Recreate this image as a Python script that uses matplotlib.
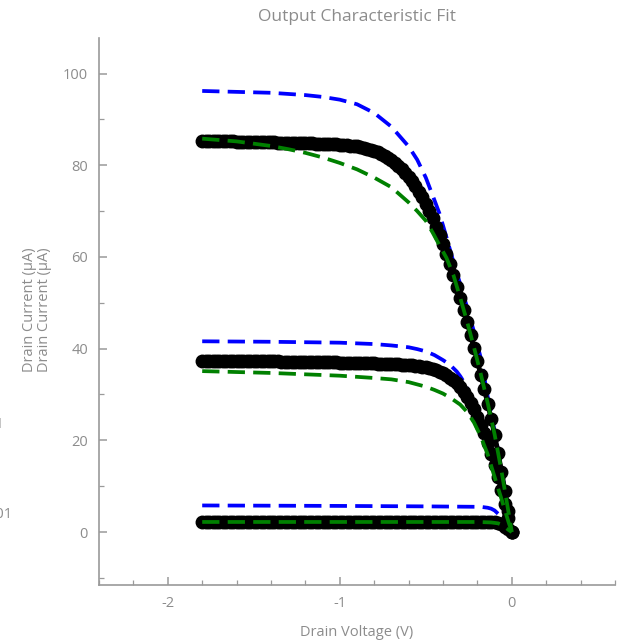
import numpy as np
import matplotlib
matplotlib.use("Agg")
import matplotlib.pyplot as plt
from matplotlib.ticker import MultipleLocator

plt.rcParams['font.family'] = ['Open Sans', 'DejaVu Sans']
plt.rcParams['axes.unicode_minus'] = False

# Drain-voltage sweep (V), 0.02 V step
vds = np.round(np.linspace(-1.8, 0.0, 91), 2)

# Measured drain current (uA) for three gate biases
i_meas_high = [
    85.3, 85.3, 85.3, 85.3, 85.2, 85.2, 85.2, 85.2, 85.2, 85.2,
    85.1, 85.1, 85.1, 85.1, 85.1, 85.1, 85.0, 85.0, 85.0, 85.0,
    85.0, 85.0, 84.9, 84.9, 84.9, 84.9, 84.9, 84.9, 84.8, 84.8,
    84.8, 84.8, 84.8, 84.7, 84.7, 84.7, 84.7, 84.6, 84.6, 84.6,
    84.5, 84.5, 84.4, 84.3, 84.2, 84.1, 84.0, 83.8, 83.6, 83.4,
    83.1, 82.8, 82.5, 82.1, 81.6, 81.1, 80.5, 79.9, 79.2, 78.4,
    77.5, 76.5, 75.4, 74.2, 73.0, 71.6, 70.1, 68.4, 66.6, 64.7,
    62.8, 60.6, 58.4, 56.0, 53.5, 51.0, 48.4, 45.8, 43.0, 40.2,
    37.2, 34.3, 31.2, 28.0, 24.6, 21.2, 17.3, 13.2, 8.9, 4.5,
    0.0,
]
i_meas_mid = [
    37.4, 37.4, 37.4, 37.4, 37.4, 37.3, 37.3, 37.3, 37.3, 37.3,
    37.3, 37.3, 37.3, 37.2, 37.2, 37.2, 37.2, 37.2, 37.2, 37.2,
    37.2, 37.2, 37.2, 37.1, 37.1, 37.1, 37.1, 37.1, 37.1, 37.1,
    37.1, 37.1, 37.0, 37.0, 37.0, 37.0, 37.0, 37.0, 37.0, 37.0,
    36.9, 36.9, 36.9, 36.9, 36.9, 36.9, 36.8, 36.8, 36.8, 36.8,
    36.8, 36.7, 36.7, 36.7, 36.7, 36.6, 36.6, 36.6, 36.5, 36.5,
    36.5, 36.4, 36.3, 36.2, 36.1, 36.0, 35.8, 35.6, 35.3, 35.0,
    34.6, 34.2, 33.7, 33.1, 32.4, 31.6, 30.6, 29.5, 28.2, 26.8,
    25.2, 23.4, 21.5, 19.4, 17.1, 14.6, 11.9, 9.1, 6.1, 3.1,
    0.0,
]
i_meas_low = [
    2.3, 2.3, 2.3, 2.3, 2.3, 2.3, 2.3, 2.3, 2.3, 2.3,
    2.3, 2.3, 2.3, 2.3, 2.3, 2.3, 2.3, 2.3, 2.3, 2.3,
    2.3, 2.3, 2.3, 2.3, 2.3, 2.3, 2.3, 2.3, 2.3, 2.3,
    2.3, 2.3, 2.3, 2.3, 2.3, 2.3, 2.3, 2.3, 2.3, 2.3,
    2.3, 2.3, 2.3, 2.3, 2.3, 2.3, 2.3, 2.3, 2.3, 2.3,
    2.3, 2.3, 2.3, 2.3, 2.3, 2.3, 2.3, 2.3, 2.3, 2.3,
    2.3, 2.3, 2.3, 2.3, 2.3, 2.3, 2.3, 2.3, 2.3, 2.3,
    2.3, 2.3, 2.3, 2.3, 2.3, 2.3, 2.3, 2.3, 2.3, 2.3,
    2.3, 2.3, 2.3, 2.3, 2.2, 2.2, 2.0, 1.7, 1.2, 0.6,
    0.0,
]

# Model A (blue) evaluated at selected drain voltages
va_high = [-1.8, -1.6, -1.4, -1.2, -1.1, -1.0, -0.9, -0.8, -0.7, -0.6, -0.55,
           -0.5, -0.45, -0.42, -0.38, -0.34, -0.30, -0.26, -0.22, -0.18,
           -0.14, -0.10, -0.06, -0.02, 0.0]
ia_high = [96.2, 96.0, 95.8, 95.3, 94.9, 94.3, 93.3, 91.4, 88.4, 84.1, 81.2,
           77.3, 72.4, 69.4, 64.3, 59.0, 54.1, 49.0, 43.7, 37.9,
           29.5, 22.0, 13.6, 4.6, 0.0]
va_mid = [-1.8, -1.4, -1.0, -0.8, -0.7, -0.6, -0.55, -0.5, -0.45, -0.40,
          -0.36, -0.32, -0.30, -0.28, -0.26, -0.24, -0.22, -0.20, -0.16,
          -0.12, -0.08, -0.04, 0.0]
ia_mid = [41.6, 41.5, 41.3, 41.0, 40.7, 40.3, 39.9, 39.4, 38.6, 37.5,
          36.5, 35.0, 34.0, 32.8, 31.4, 29.8, 28.0, 26.1, 22.0,
          17.6, 12.4, 6.3, 0.0]
va_low = [-1.8, -1.0, -0.5, -0.18, -0.14, -0.12, -0.10, -0.08, -0.06,
          -0.04, -0.02, 0.0]
ia_low = [5.8, 5.7, 5.6, 5.5, 5.3, 5.1, 4.7, 4.0, 3.1, 2.2, 1.2, 0.0]

# Model B (green) evaluated at selected drain voltages
vb_high = [-1.8, -1.6, -1.4, -1.3, -1.2, -1.1, -1.0, -0.9, -0.8, -0.7, -0.6,
           -0.55, -0.5, -0.46, -0.42, -0.38, -0.34, -0.30, -0.26, -0.22,
           -0.18, -0.14, -0.10, -0.06, -0.02, 0.0]
ib_high = [85.8, 85.2, 84.2, 83.5, 82.7, 81.7, 80.5, 79.1, 77.3, 75.2, 71.9,
           70.0, 67.9, 65.3, 62.5, 59.8, 56.1, 51.1, 45.9, 40.3,
           34.4, 28.1, 21.3, 13.3, 4.5, 0.0]
vb_mid = [-1.8, -1.6, -1.4, -1.2, -1.0, -0.8, -0.7, -0.6, -0.5, -0.45,
          -0.40, -0.35, -0.30, -0.26, -0.22, -0.18, -0.14, -0.10, -0.06,
          -0.02, 0.0]
ib_mid = [35.1, 34.9, 34.7, 34.4, 34.1, 33.6, 33.3, 32.7, 31.7, 31.0,
          30.2, 29.1, 27.8, 26.2, 23.9, 20.8, 16.9, 12.0, 7.2,
          2.3, 0.0]
vb_low = [-1.8, -1.0, -0.5, -0.2, -0.12, -0.08, -0.06, -0.04, -0.02, 0.0]
ib_low = [2.2, 2.2, 2.2, 2.2, 2.1, 1.9, 1.6, 1.1, 0.5, 0.0]

GREY = '#8c8c8c'
SPINE = '#9a9a9a'

fig = plt.figure(figsize=(6.33, 6.44), dpi=100)
ax = fig.add_axes([0.1564, 0.0916, 0.8152, 0.8494])

for cur in (i_meas_high, i_meas_mid, i_meas_low):
    ax.plot(vds, cur, color='black', lw=3.5, marker='o', ms=9,
            markeredgecolor='black', zorder=2)

dash = (4.6, 2.2)
for v, cur in ((va_high, ia_high), (va_mid, ia_mid), (va_low, ia_low)):
    ax.plot(v, cur, color='blue', lw=2.7, ls=(0, dash), zorder=1)
for v, cur in ((vb_high, ib_high), (vb_mid, ib_mid), (vb_low, ib_low)):
    ax.plot(v, cur, color='green', lw=2.7, ls=(0, dash), zorder=3)

ax.set_xlim(-2.4, 0.6)
ax.set_ylim(-11.55, 107.75)

ax.xaxis.set_major_locator(MultipleLocator(1))
ax.xaxis.set_minor_locator(MultipleLocator(0.2))
ax.yaxis.set_major_locator(MultipleLocator(20))
ax.yaxis.set_minor_locator(MultipleLocator(10))

for s in ('top', 'right'):
    ax.spines[s].set_visible(False)
for s in ('left', 'bottom'):
    ax.spines[s].set_color(SPINE)
    ax.spines[s].set_linewidth(1.2)

ax.tick_params(which='both', direction='in', colors=SPINE, labelcolor=GREY,
               labelsize=10.5)
ax.tick_params(which='major', length=6, width=1.1, pad=8)
ax.tick_params(which='minor', length=3.5, width=0.9)

ax.set_title('Output Characteristic Fit', color=GREY, fontsize=12.5, pad=12)
ax.set_xlabel('Drain Voltage (V)', color=GREY, fontsize=10.5, labelpad=10)

fig.text(45 / 633, 1 - 310 / 644, 'Drain Current (μA)', rotation=90,
         color=GREY, fontsize=10.5, ha='center', va='center')
fig.text(30 / 633, 1 - 310 / 644, 'Drain Current (μA)', rotation=90,
         color=GREY, fontsize=10.5, ha='center', va='center')

# Tick labels of a neighbouring axis, cut by the figure edge
fig.text(4 / 633, 1 - 425 / 644, '0.1', color=GREY, fontsize=10.5,
         ha='right', va='center')
fig.text(12.5 / 633, 1 - 515 / 644, '0.01', color=GREY, fontsize=10.5,
         ha='right', va='center')

fig.savefig('out.png', dpi=100)
